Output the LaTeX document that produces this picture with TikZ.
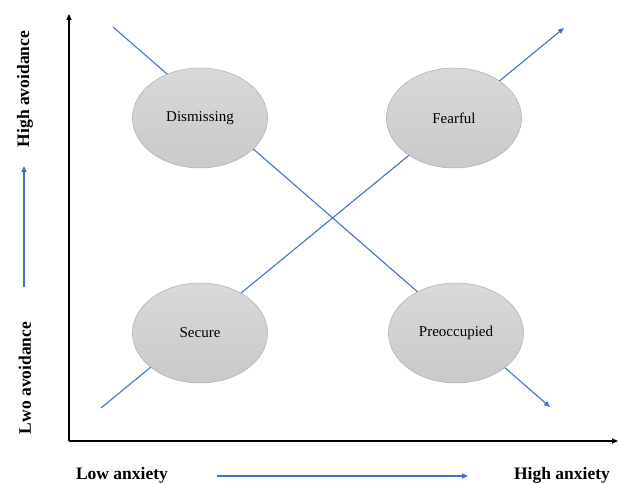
\documentclass[tikz,border=0pt]{standalone}
\usepackage{fontspec}
\setmainfont{Liberation Serif}
\usetikzlibrary{shapes.geometric,arrows.meta}
\definecolor{lineblue}{RGB}{68,114,196}
\tikzset{
  ell/.style={ellipse, draw=gray!65, line width=0.5pt, top color=gray!30, bottom color=gray!42,
    minimum width=135pt, minimum height=100pt, inner sep=0pt, font=\fontsize{15}{18}\selectfont},
  axis/.style={line width=1.1pt, black, -{Triangle[length=6pt,width=5pt]}},
  bluearr/.style={line width=1.1pt, lineblue, -{Triangle[length=6pt,width=5pt]}},
  lab/.style={font=\fontsize{17.5}{20}\selectfont\bfseries, inner sep=0pt}
}
\begin{document}
\begin{tikzpicture}[x=1pt,y=-1pt]
\useasboundingbox (0,0) rectangle (619,484);
% free ends of connectors
\coordinate (d0) at (113,27);
\coordinate (d1) at (550,407);
\coordinate (s0) at (101,408);
\coordinate (s1) at (564,28);
\draw[bluearr] (d0) -- (d1);
\draw[bluearr] (s0) -- (s1);
% axes
\coordinate (o) at (69,441);
\coordinate (yt) at (69,14);
\coordinate (xt) at (618,441);
\draw[axis] (o) -- (yt);
\draw[axis] (o) -- (xt);
% ellipses
\node[ell] (dis) at (200,118) {Dismissing};
\node[ell] (fea) at (454,118) {Fearful};
\node[ell] (sec) at (200,333) {Secure};
\node[ell] (pre) at (456,333) {Preoccupied};
% labels
\node[lab, rotate=90] (ha) at (25,89) {High avoidance};
\node[lab, rotate=90] (la) at (25,378) {Lwo avoidance};
\node[lab, anchor=base] (lx) at (122,479) {Low anxiety};
\node[lab, anchor=base] (hx) at (562,479) {High anxiety};
% side arrows
\coordinate (v0) at (24,287);
\coordinate (v1) at (24,166);
\draw[bluearr] (v0) -- (v1);
\coordinate (h0) at (217,476);
\coordinate (h1) at (468,476);
\draw[bluearr] (h0) -- (h1);
\end{tikzpicture}
\end{document}
